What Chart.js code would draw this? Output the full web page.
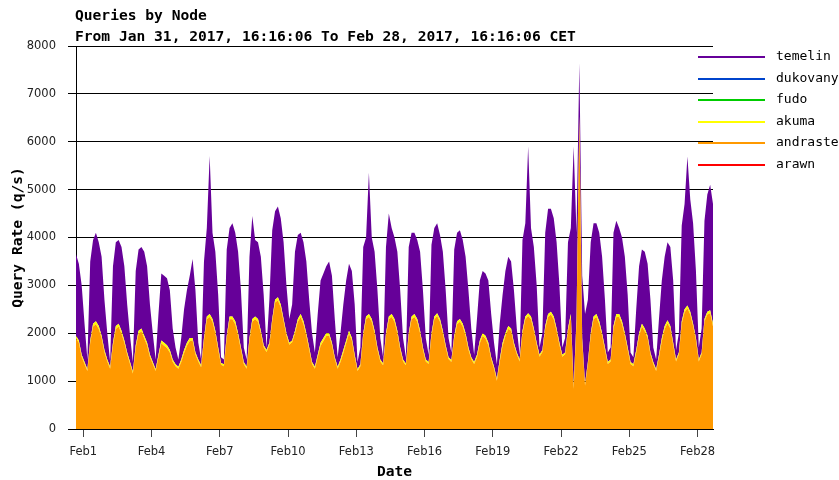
<!DOCTYPE html>
<html>
<head>
<meta charset="utf-8">
<title>Queries by Node</title>
<script src="https://cdn.jsdelivr.net/npm/chart.js@4.4.1/dist/chart.umd.min.js"></script>
<style>
  html, body { margin: 0; padding: 0; background: #fff; }
  canvas { display: block; }
</style>
</head>
<body>
<canvas id="queriesChart" width="839" height="480"></canvas>
<script>
var chartTitle = ['Queries by Node', 'From Jan 31, 2017, 16:16:06 To Feb 28, 2017, 16:16:06 CET']

// hours since Jan 31, 2017 16:16:06 CET, one sample every 3 hours
var times = []
for (let h = 0; h <= 672; h += 3) times.push(h)

// tick marks at midnight of these days
var tickDays = [1, 4, 7, 10, 13, 16, 19, 22, 25, 28]
var tickLabels = ['Feb1', 'Feb4', 'Feb7', 'Feb10', 'Feb13', 'Feb16', 'Feb19', 'Feb22', 'Feb25', 'Feb28']
var firstMidnight = 7 + 44 / 60   // Feb 1 00:00 in hours after start

// query rate (q/s) per node
// Jan 31: 16h 19h 22h, then each day 01h 04h 07h 10h 13h 16h 19h 22h
var temelin = [
  1700, 1600, 1450,
  800, 200, 1650, 1750, 1850, 1750, 1650, 1050,
  550, 100, 1600, 1750, 1750, 1750, 1550, 1000,
  550, 200, 1550, 1700, 1700, 1750, 1600, 1050,
  600, 200, 850, 1400, 1400, 1400, 1250, 650,
  350, 150, 450, 850, 1100, 1300, 1650, 1300,
  350, 120, 1600, 1850, 3300, 1800, 1650, 1100,
  120, 100, 1800, 1850, 1950, 1850, 1700, 1200,
  300, 150, 1700, 2150, 1600, 1600, 1550, 1050,
  50, 900, 1850, 1850, 1900, 1800, 1600, 1000,
  500, 750, 1650, 1750, 1700, 1650, 1500, 1000,
  600, 300, 850, 1300, 1350, 1400, 1500, 1400,
  800, 200, 550, 950, 1250, 1400, 1400, 1050,
  150, 350, 1800, 1650, 2950, 1700, 1650, 1200,
  450, 130, 1800, 2150, 1800, 1700, 1650, 1200,
  450, 130, 1800, 1750, 1700, 1650, 1650, 1200,
  450, 150, 1850, 1850, 1880, 1750, 1650, 1150,
  400, 160, 1800, 1850, 1850, 1750, 1600, 1200,
  600, 150, 750, 1250, 1300, 1300, 1300, 900,
  500, 300, 750, 1000, 1300, 1450, 1400, 1100,
  500, 100, 1900, 1950, 3480, 1850, 1700, 1200,
  150, 350, 1950, 2200, 2150, 2050, 1800, 1200,
  150, 300, 1800, 1800, 5000, 1800, 1110, 1300,
  1450, 1300, 1900, 1950, 1900, 1850, 1600, 1000,
  200, 250, 1950, 1950, 1800, 1750, 1600, 1100,
  200, 150, 850, 1400, 1550, 1600, 1500, 1100,
  300, 200, 750, 1200, 1450, 1630, 1650, 1300,
  200, 400, 2000, 2200, 3110, 2350, 2100, 1400,
  250, 500, 2050, 2450, 2620, 2500
]
var akuma = [
  60, 50, 45,
  40, 40, 50, 60, 60, 60, 50, 45,
  40, 40, 50, 60, 60, 60, 50, 45,
  40, 40, 50, 60, 60, 60, 50, 45,
  40, 40, 50, 60, 60, 60, 50, 45,
  40, 40, 50, 60, 60, 60, 50, 45,
  40, 40, 50, 60, 60, 60, 50, 45,
  40, 40, 50, 60, 60, 60, 50, 45,
  40, 40, 50, 60, 60, 60, 50, 45,
  40, 40, 50, 60, 60, 60, 50, 45,
  40, 40, 50, 60, 60, 60, 50, 45,
  40, 40, 50, 60, 60, 60, 50, 45,
  40, 40, 50, 60, 60, 60, 50, 45,
  40, 40, 50, 60, 60, 60, 50, 45,
  40, 40, 50, 60, 60, 60, 50, 45,
  40, 40, 50, 60, 60, 60, 50, 45,
  40, 40, 50, 60, 60, 60, 50, 45,
  40, 40, 50, 60, 60, 60, 50, 45,
  40, 40, 50, 60, 60, 60, 50, 45,
  40, 40, 50, 60, 60, 60, 50, 45,
  40, 40, 50, 60, 60, 60, 50, 45,
  40, 40, 50, 60, 60, 60, 50, 45,
  40, 40, 50, 60, 60, 60, 50, 45,
  40, 40, 50, 60, 60, 60, 50, 45,
  40, 40, 50, 60, 60, 60, 50, 45,
  40, 40, 50, 60, 60, 60, 50, 45,
  40, 40, 50, 60, 60, 60, 50, 45,
  40, 40, 50, 60, 60, 60, 50, 45,
  40, 40, 50, 60, 60, 60
]
var andraste = [
  1890, 1800, 1505,
  1360, 1210, 1800, 2140, 2190, 2090, 1900, 1605,
  1410, 1260, 1750, 2090, 2140, 1990, 1800, 1555,
  1360, 1160, 1700, 1990, 2040, 1890, 1750, 1505,
  1360, 1210, 1500, 1790, 1740, 1690, 1600, 1405,
  1310, 1260, 1400, 1590, 1740, 1840, 1850, 1555,
  1410, 1290, 1850, 2290, 2340, 2240, 2000, 1655,
  1340, 1310, 1900, 2290, 2290, 2190, 1950, 1655,
  1360, 1260, 1850, 2240, 2290, 2240, 2000, 1705,
  1610, 1760, 2250, 2640, 2690, 2540, 2250, 1955,
  1760, 1810, 2000, 2240, 2340, 2190, 1950, 1655,
  1360, 1260, 1500, 1740, 1840, 1940, 1950, 1755,
  1460, 1260, 1400, 1590, 1790, 1990, 1850, 1505,
  1210, 1310, 1950, 2290, 2340, 2240, 2000, 1655,
  1410, 1330, 1950, 2290, 2340, 2240, 2000, 1655,
  1410, 1330, 1950, 2290, 2340, 2240, 2000, 1655,
  1410, 1360, 1950, 2290, 2360, 2240, 2000, 1705,
  1460, 1400, 1900, 2190, 2240, 2140, 1950, 1655,
  1460, 1360, 1500, 1790, 1940, 1890, 1750, 1455,
  1260, 1010, 1400, 1740, 1940, 2090, 2050, 1755,
  1560, 1410, 2000, 2290, 2360, 2290, 2050, 1755,
  1510, 1610, 2100, 2340, 2390, 2290, 2050, 1755,
  1510, 1560, 2050, 2340, 840, 2240, 6480, 1855,
  910, 1360, 1950, 2290, 2340, 2190, 1950, 1655,
  1360, 1410, 2100, 2340, 2340, 2190, 1950, 1655,
  1360, 1310, 1600, 1940, 2140, 2040, 1900, 1555,
  1360, 1210, 1500, 1840, 2090, 2210, 2100, 1755,
  1410, 1560, 2200, 2440, 2520, 2390, 2150, 1855,
  1410, 1560, 2250, 2390, 2420, 2140
]
// these nodes stay at 0 q/s for the whole month
var idleTimes = [0, 672]
var dukovany = [0, 0]
var fudo = [0, 0]
var arawn = [0, 0]

var legendNames = ['temelin', 'dukovany', 'fudo', 'akuma', 'andraste', 'arawn']
var seriesColors = {
  temelin: '#660099',
  dukovany: '#0044cc',
  fudo: '#00cc00',
  akuma: '#ffff00',
  andraste: '#ff9900',
  arawn: '#ff0000'
}

function points(xs, ys) {
    return xs.map((x, i) => ({ x: x, y: ys[i] }))
}

function area(name, xs, ys, fill) {
    return {
        label: name,
        data: points(xs, ys),
        backgroundColor: seriesColors[name],
        borderColor: 'rgba(0,0,0,0)',
        borderWidth: 1,
        pointRadius: 0,
        fill: fill
    }
}

var monoFont = '"DejaVu Sans Mono", monospace'
var sansFont = '"DejaVu Sans", sans-serif'

// title lines and the legend sit in the same places as on the rrd graph
var rrdDecor = {
    id: 'rrdDecor',
    afterDraw: function (chart) {
        var ctx = chart.ctx
        ctx.save()
        ctx.fillStyle = '#000'
        ctx.textAlign = 'left'
        ctx.textBaseline = 'middle'
        ctx.font = 'bold 14.6px ' + monoFont
        ctx.fillText(chartTitle[0], 75, 16)
        ctx.fillText(chartTitle[1], 75, 37)
        ctx.font = '13px ' + monoFont
        for (let i = 0; i < legendNames.length; i++) {
            var y = Math.round(57 + i * 21.6)
            ctx.strokeStyle = seriesColors[legendNames[i]]
            ctx.lineWidth = 2
            ctx.beginPath()
            ctx.moveTo(698, y)
            ctx.lineTo(765, y)
            ctx.stroke()
            ctx.fillText(legendNames[i], 776, y)
        }
        ctx.restore()
    }
}

var ctx = document.getElementById('queriesChart').getContext('2d')
var queriesChart = new Chart(ctx, {
    type: 'line',
    data: {
        datasets: [
            area('andraste', times, andraste, 'origin'),
            area('akuma', times, akuma, 'stack'),
            area('temelin', times, temelin, 'stack'),
            area('dukovany', idleTimes, dukovany, false),
            area('fudo', idleTimes, fudo, false),
            area('arawn', idleTimes, arawn, false)
        ]
    },
    options: {
        responsive: false,
        animation: false,
        layout: { padding: { top: 46, right: 126, left: 0, bottom: 0 } },
        elements: { line: { tension: 0 } },
        plugins: {
            legend: { display: false },
            tooltip: { enabled: false }
        },
        scales: {
            x: {
                type: 'linear',
                min: 0,
                max: 672,
                afterFit: function (scale) { scale.height = 51 },
                afterBuildTicks: function (scale) {
                    scale.ticks = tickDays.map((d) => ({ value: firstMidnight + (d - 1) * 24 }))
                },
                grid: { drawOnChartArea: false, drawTicks: true, tickLength: 8, color: '#444' },
                border: { color: '#000' },
                ticks: {
                    autoSkip: false,
                    maxRotation: 0,
                    padding: 8,
                    color: '#222',
                    font: { family: sansFont, size: 11.5 },
                    callback: function (value, index) { return tickLabels[index] }
                },
                title: {
                    display: true,
                    text: 'Date',
                    color: '#000',
                    padding: { top: 0, bottom: -1 },
                    font: { family: monoFont, size: 14.6, weight: 'bold' }
                }
            },
            y: {
                stacked: true,
                min: 0,
                max: 8000,
                afterFit: function (scale) { scale.width = 76 },
                grid: { color: '#000', tickLength: 8 },
                border: { color: '#000' },
                ticks: {
                    stepSize: 1000,
                    padding: 12,
                    color: '#222',
                    font: { family: sansFont, size: 11.5 },
                    callback: function (value) { return String(value) }
                },
                title: {
                    display: true,
                    text: 'Query Rate (q/s)',
                    color: '#000',
                    padding: { top: 9, bottom: 0 },
                    font: { family: monoFont, size: 14.6, weight: 'bold' }
                }
            }
        }
    },
    plugins: [rrdDecor]
})
</script>
</body>
</html>
